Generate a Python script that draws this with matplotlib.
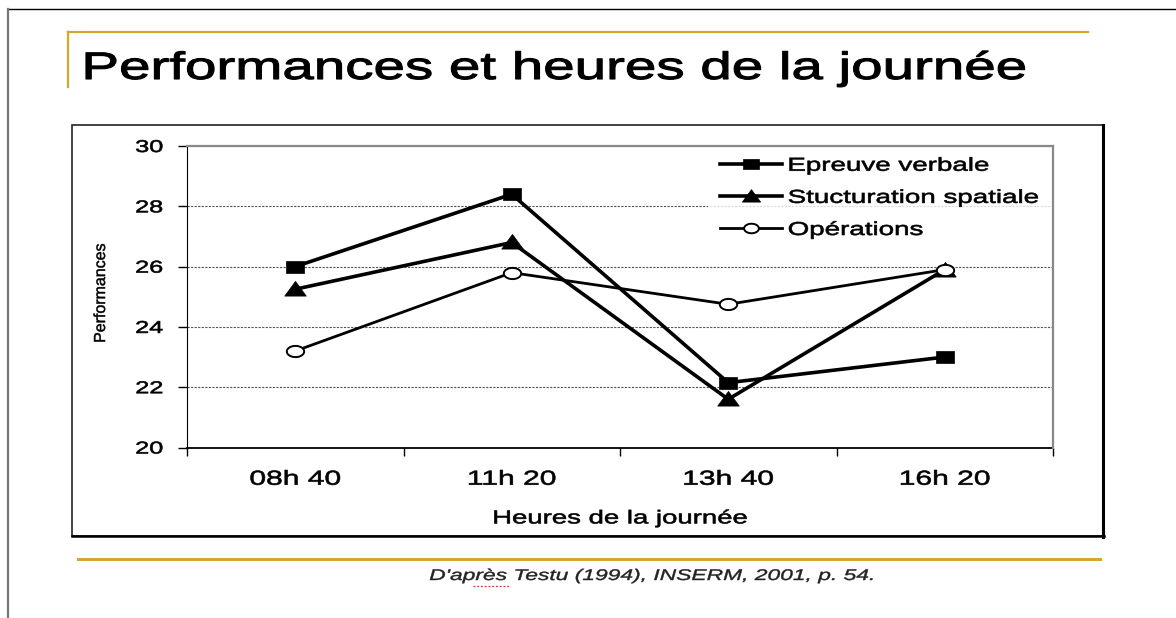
import numpy as np
import matplotlib
matplotlib.use('Agg')
from matplotlib import pyplot as plt
from matplotlib.patheffects import AbstractPathEffect
from matplotlib.transforms import Affine2D
from matplotlib.path import Path
from matplotlib.lines import Line2D

# data
heures = ['08h 40', '11h 20', '13h 40', '16h 20']
verbale = [26.0, 28.4, 22.15, 23.0]
spatiale = [25.25, 26.8, 21.6, 25.9]
operations = [23.2, 25.8, 24.75, 25.9]
noms = ['Epreuve verbale', 'Stucturation spatiale', 'Opérations']
y_ticks = [20, 22, 24, 26, 28, 30]

plt.rcParams['font.family'] = ['Liberation Sans', 'DejaVu Sans']

W, H = 1176, 618
SX = 1.48  # the slide picture is stretched sideways


class Stretch(AbstractPathEffect):
    # widen (and thicken a bit) the glyphs like the original stretched slide
    def __init__(self, sx=SX, anchor=0.5, lw=0.45):
        super().__init__()
        self.sx = sx
        self.anchor = anchor
        self.lw = lw

    def draw_path(self, renderer, gc, tpath, affine, rgbFace=None):
        ext = tpath.get_extents()
        x0 = ext.x0 + self.anchor * ext.width
        st = Affine2D().translate(-x0, 0).scale(self.sx, 1).translate(x0, 0)
        gc0 = renderer.new_gc()
        gc0.copy_properties(gc)
        gc0.set_linewidth(self.lw)
        renderer.draw_path(gc0, tpath, st + affine, rgbFace)
        gc0.restore()


def fx(px):
    return px / W


def fy(py):
    return 1 - py / H


# wide markers
m_carre = Path([(-1.5, -1), (1.5, -1), (1.5, 1), (-1.5, 1), (-1.5, -1)], closed=True)
m_tri = Path([(-1.47, -0.9), (1.47, -0.9), (0, 1.1), (-1.47, -0.9)], closed=True)
t = np.linspace(0, 2 * np.pi, 60)
m_rond = Path(np.column_stack([1.55 * np.cos(t), np.sin(t)]), closed=True)

fig = plt.figure(figsize=(W / 100, H / 100), dpi=100)

# slide frame
fig.add_artist(Line2D([fx(8), fx(1176)], [fy(9), fy(9)], color='black', lw=1))
fig.add_artist(Line2D([fx(8), fx(8)], [fy(9), fy(618)], color='#777777', lw=1.6))

# gold title bracket
gold = '#d4a82a'
fig.add_artist(Line2D([fx(68), fx(1088)], [fy(32), fy(32)], color=gold, lw=1.6))
fig.add_artist(Line2D([fx(68), fx(68)], [fy(32), fy(87)], color=gold, lw=1.6))
fig.text(fx(555), fy(79), 'Performances et heures de la journée', ha='center',
         va='baseline', fontsize=27.5, color='black', path_effects=[Stretch(lw=0.8)])

# chart box
fig.add_artist(plt.Rectangle((fx(72), fy(536)), fx(1103) - fx(72), fy(125) - fy(536),
                             transform=fig.transFigure, fill=False, ec='#222222', lw=1.2))
fig.add_artist(Line2D([fx(1103), fx(1103)], [fy(125), fy(537)], color='black', lw=2.2))
fig.add_artist(Line2D([fx(72), fx(1104)], [fy(536), fy(536)], color='black', lw=1.8))

ax = fig.add_axes([fx(187), fy(447.5), fx(1053) - fx(187), fy(146) - fy(447.5)])
x = np.arange(len(heures))

ax.plot(x, verbale, color='black', lw=2.6, marker=m_carre, ms=13.5,
        mfc='black', mec='black', mew=0.5, label=noms[0])
ax.plot(x, spatiale, color='black', lw=2.6, marker=m_tri, ms=15.5,
        mfc='black', mec='black', mew=0.5, label=noms[1])
ax.plot(x, operations, color='black', lw=2.0, marker=m_rond, ms=12.5,
        mfc='white', mec='black', mew=1.4, label=noms[2])

ax.set_xlim(-0.5, len(heures) - 0.5)
ax.set_ylim(20, 30)
ax.set_yticks(y_ticks)
ax.set_yticklabels([str(v) for v in y_ticks])
ax.set_xticks(np.arange(len(heures) + 1) - 0.5)
ax.set_xticklabels([])
ax.set_xticks(x, minor=True)
ax.set_xticklabels(heures, minor=True)
ax.tick_params(axis='y', direction='out', length=6.5, width=1, pad=10.8, labelsize=12.3)
ax.tick_params(axis='x', which='major', direction='out', length=6, width=1)
ax.tick_params(axis='x', which='minor', length=0, pad=16.0, labelsize=14.6)

for v in y_ticks[1:-1]:
    ax.axhline(v, color='#555555', lw=0.8, ls=(0, (2, 1.2)), zorder=0)

ax.spines['left'].set_color('black')
ax.spines['bottom'].set_color('black')
ax.spines['bottom'].set_linewidth(1.3)
ax.spines['top'].set_color('#888888')
ax.spines['right'].set_color('#888888')
ax.spines['top'].set_linewidth(1.6)
ax.spines['right'].set_linewidth(1.6)
ax.spines['top'].set_zorder(6)
ax.spines['right'].set_zorder(6)

for lab in ax.get_yticklabels():
    lab.set_path_effects([Stretch(anchor=1.0)])
for lab in ax.get_xticklabels(minor=True):
    lab.set_path_effects([Stretch()])

ax.set_xlabel('Heures de la journée', fontsize=13.4, labelpad=15.6)
ax.xaxis.label.set_path_effects([Stretch()])
ax.set_ylabel('Performances', fontsize=11.5)
ax.yaxis.label.set_path_effects([Stretch(sx=1.0, lw=0.35)])
ax.yaxis.set_label_coords(-0.0912, 0.512)

leg = ax.legend(loc='upper left', mode='expand',
                bbox_to_anchor=(fx(708), fy(247), fx(1052) - fx(708), fy(146) - fy(247)),
                bbox_transform=fig.transFigure, borderaxespad=0, fontsize=13.5,
                handlelength=3.35, handletextpad=0.3, borderpad=0.62, labelspacing=0.8,
                markerscale=0.85, frameon=True, fancybox=False)
leg.get_frame().set_facecolor('white')
leg.get_frame().set_edgecolor('none')
for txt in leg.get_texts():
    txt.set_path_effects([Stretch(anchor=0.0)])

# footer
fig.add_artist(Line2D([fx(78), fx(1100)], [fy(559), fy(559)], color=gold, lw=2.2))
fig.text(fx(651), fy(580), "D'après Testu (1994), INSERM, 2001, p. 54.", ha='center',
         va='baseline', fontsize=11.1, style='italic', color='#222222',
         path_effects=[Stretch(lw=0.3)])
fig.add_artist(Line2D([fx(473), fx(510)], [fy(586), fy(586)], color='#e03030', lw=0.9,
                      ls=(0, (1.5, 1.5))))

fig.savefig('out.png', dpi=100)
